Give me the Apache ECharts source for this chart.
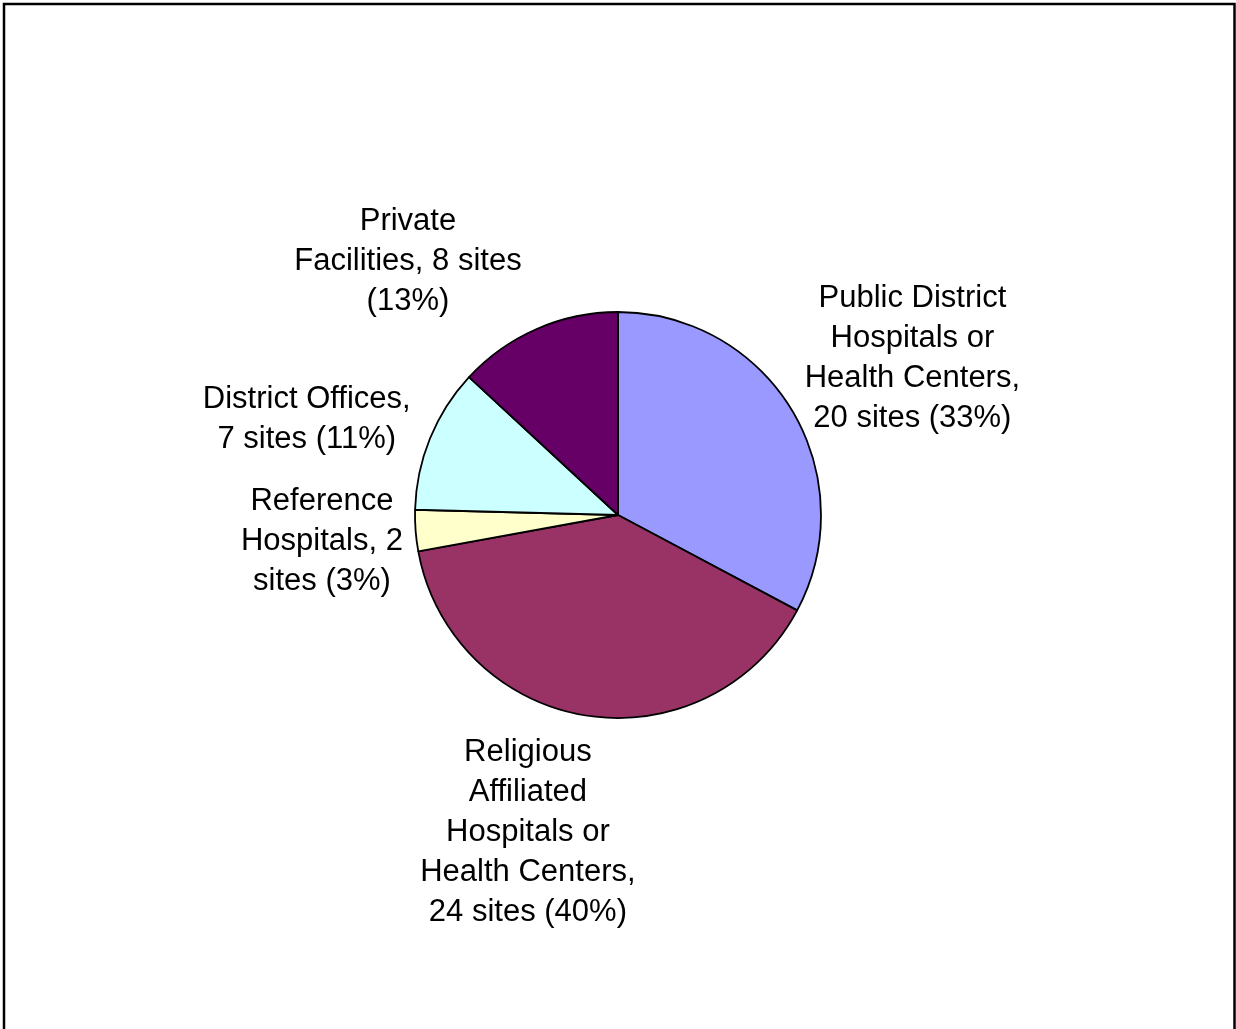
<!DOCTYPE html>
<html>
<head>
<meta charset="utf-8">
<style>
  html, body { margin: 0; padding: 0; background: #ffffff; }
  #chart { width: 1236px; height: 1029px; }
</style>
<script src="https://cdn.jsdelivr.net/npm/echarts@6/dist/echarts.min.js"></script>
</head>
<body>
<div id="chart"></div>
<script>
// Site categories, in clockwise order starting at 12 o'clock
const categories = [
  'Public District Hospitals or Health Centers',
  'Religious Affiliated Hospitals or Health Centers',
  'Reference Hospitals',
  'District Offices',
  'Private Facilities'
];
// Number of sites per category
const sites = [20, 24, 2, 7, 8];
// Shares as printed on the labels
const percents = [33, 40, 3, 11, 13];
// Label text with its line breaks; {v} = sites, {p} = percent
const labelTemplates = [
  'Public District\nHospitals or\nHealth Centers,\n{v} sites ({p}%)',
  'Religious\nAffiliated\nHospitals or\nHealth Centers,\n{v} sites ({p}%)',
  'Reference\nHospitals, {v}\nsites ({p}%)',
  'District Offices,\n{v} sites ({p}%)',
  'Private\nFacilities, {v} sites\n({p}%)'
];
const sliceColors = ['#9999FF', '#993366', '#FFFFCC', '#CCFFFF', '#660066'];

// Pie geometry
const pieCenter = [618, 515];
const pieRadius = 203;
const labelGap = 28;
// Fine adjustments of each label block after placing it off the slice's mid-angle
const labelNudge = [[4, 4], [-38, -10], [15, 4], [-1, 7], [-72, 13]];

const total = sites.reduce((a, b) => a + b, 0);
const midAngles = [];
let acc = 0;
sites.forEach(v => {
  const span = v / total * 2 * Math.PI;
  midAngles.push(acc + span / 2);
  acc += span;
});

const chart = echarts.init(document.getElementById('chart'), null, { renderer: 'canvas' });

chart.setOption({
  backgroundColor: '#ffffff',
  animation: false,
  graphic: [{
    type: 'rect',
    shape: { x: 4, y: 4, width: 1230.5, height: 1100 },
    style: { fill: 'none', stroke: '#000000', lineWidth: 2.5 },
    z: 100
  }],
  series: [{
    type: 'pie',
    center: pieCenter,
    radius: pieRadius,
    startAngle: 90,
    clockwise: true,
    avoidLabelOverlap: false,
    minAngle: 0,
    itemStyle: { borderColor: '#000000', borderWidth: 1.8 },
    label: {
      show: true,
      position: 'outside',
      fontFamily: '"Liberation Sans", Arial, sans-serif',
      fontSize: 31,
      lineHeight: 40,
      color: '#000000',
      align: 'center',
      formatter: p => labelTemplates[p.dataIndex]
        .replace('{v}', sites[p.dataIndex])
        .replace('{p}', percents[p.dataIndex])
    },
    labelLine: { show: false },
    labelLayout: params => {
      const i = params.dataIndex;
      const a = midAngles[i];
      const ux = Math.sin(a), uy = -Math.cos(a);
      const w = params.labelRect.width, h = params.labelRect.height;
      const r = pieRadius + labelGap;
      const x = pieCenter[0] + ux * r + ux * w / 2 + labelNudge[i][0];
      const y = pieCenter[1] + uy * r + uy * h / 2 + labelNudge[i][1];
      return { x: x, y: y, align: 'center', verticalAlign: 'middle' };
    },
    emphasis: { disabled: true },
    data: categories.map((name, i) => ({
      name: name,
      value: sites[i],
      itemStyle: { color: sliceColors[i] }
    }))
  }]
});
</script>
</body>
</html>
